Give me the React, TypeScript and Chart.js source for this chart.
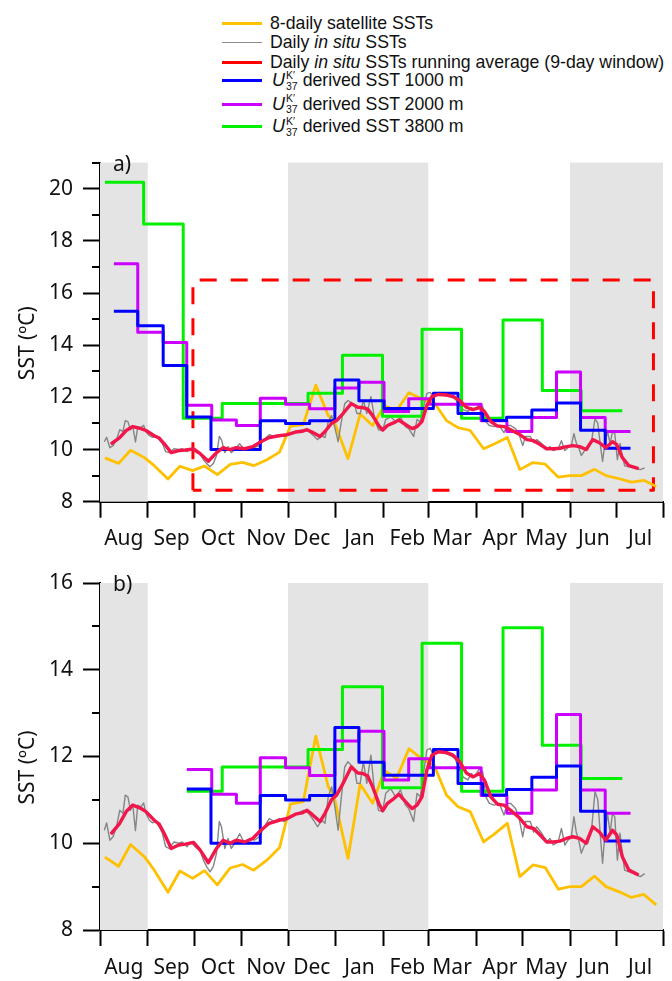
import React, { useEffect, useRef } from 'react';
import { Chart, registerables } from 'chart.js';

Chart.register(...registerables);

// ---- axis / calendar (days since 1 Aug) ----
const monthLabels = ['Aug', 'Sep', 'Oct', 'Nov', 'Dec', 'Jan', 'Feb', 'Mar', 'Apr', 'May', 'Jun', 'Jul'];
const monthStarts = [0, 31, 61, 92, 122, 153, 184, 213, 244, 274, 305, 335, 365.3];
const xMax = 365.3;
const shadedSpans = [[0, 31], [122, 213], [305, 365.3]];

const yMajorA = [8, 10, 12, 14, 16, 18, 20];
const yMinorA = [9, 11, 13, 15, 17, 19, 21];
const yMajorB = [8, 10, 12, 14, 16];
const yMinorB = [9, 11, 13, 15];

// ---- 8-daily satellite SSTs ----
const satDays = [3.2, 12.1, 19.8, 28.8, 35.2, 44.1, 51.8, 60.1, 67.8, 76.1, 84.5, 92.5, 99.7, 108.3, 116.5, 123.6, 131.9, 140.0, 148.1, 151.7, 160.9, 168.8, 176.9, 184.5, 192.4, 200.4, 210.5, 216.8, 224.8, 232.3, 240.2, 248.9, 255.8, 264.3, 272.4, 280.9, 288.9, 297.4, 304.9, 312.3, 320.9, 328.3, 336.9, 344.9, 352.8, 360.9];
const satSST = [9.68, 9.47, 9.97, 9.69, 9.38, 8.87, 9.36, 9.19, 9.37, 9.04, 9.43, 9.51, 9.38, 9.61, 9.90, 10.90, 10.96, 12.47, 11.30, 11.11, 9.65, 11.36, 10.92, 11.68, 11.49, 12.18, 11.90, 11.80, 11.11, 10.84, 10.73, 10.03, 10.21, 10.46, 9.23, 9.50, 9.44, 8.94, 9.00, 9.00, 9.24, 9.00, 8.88, 8.75, 8.82, 8.58];

// ---- daily in situ SSTs ----
const insituDays = [2.8, 4.3, 6.4, 8.5, 10.7, 12.8, 14.9, 16.4, 18.1, 19.8, 21.3, 23.0, 24.5, 26.6, 28.3, 29.8, 32.0, 34.1, 36.2, 38.4, 40.5, 42.6, 44.8, 48.0, 51.2, 53.3, 56.5, 58.6, 60.7, 62.9, 65.0, 67.1, 69.2, 71.4, 73.5, 75.6, 77.4, 78.8, 81.0, 83.1, 85.2, 87.4, 90.6, 93.8, 97.0, 100.2, 103.4, 106.6, 109.8, 113.0, 116.2, 119.4, 123.6, 127.9, 132.1, 135.4, 138.6, 141.1, 143.9, 146.0, 148.1, 150.3, 152.4, 154.5, 156.6, 158.8, 160.9, 163.0, 165.2, 166.7, 168.8, 170.9, 173.1, 175.8, 178.0, 180.7, 183.3, 185.4, 188.6, 191.8, 195.0, 198.2, 200.3, 203.5, 205.7, 207.8, 209.9, 212.1, 214.2, 216.3, 218.5, 220.6, 223.8, 227.0, 230.2, 233.4, 235.5, 238.7, 240.9, 243.0, 246.2, 248.3, 250.4, 252.6, 255.8, 259.0, 262.1, 264.3, 266.4, 269.6, 271.7, 274.3, 276.0, 279.2, 281.3, 283.4, 286.6, 289.8, 292.0, 294.1, 297.3, 299.4, 301.6, 303.7, 305.8, 307.5, 309.0, 310.6, 312.3, 314.4, 316.5, 319.1, 321.2, 323.0, 324.7, 326.1, 327.6, 329.3, 331.0, 332.5, 334.0, 335.7, 337.4, 338.9, 340.4, 343.2, 346.4, 350.6, 353.4];
const insituSST = [10.30, 10.47, 10.07, 10.15, 10.38, 10.76, 10.69, 11.11, 11.07, 10.76, 10.88, 10.29, 10.88, 10.84, 10.93, 10.69, 10.53, 10.47, 10.50, 10.38, 10.23, 9.92, 9.88, 10.03, 10.00, 10.03, 9.92, 10.03, 9.96, 9.88, 9.84, 9.61, 9.46, 9.34, 9.46, 9.77, 10.50, 10.38, 9.88, 10.11, 9.88, 10.00, 10.22, 10.00, 10.11, 10.07, 10.15, 10.38, 10.57, 10.50, 10.57, 10.50, 10.61, 10.69, 10.76, 10.69, 10.53, 10.38, 10.53, 10.46, 11.07, 11.30, 10.84, 10.30, 11.07, 11.76, 11.88, 11.80, 11.72, 11.38, 11.38, 11.88, 11.38, 12.03, 11.23, 10.76, 10.73, 11.15, 11.26, 11.07, 11.23, 10.88, 10.80, 10.50, 11.15, 11.07, 11.61, 12.15, 12.19, 12.03, 12.15, 12.19, 12.07, 12.03, 11.96, 11.69, 11.53, 11.46, 11.61, 11.53, 11.72, 11.65, 11.07, 10.92, 10.88, 10.92, 10.65, 10.92, 10.92, 10.80, 10.61, 10.15, 10.50, 10.50, 10.26, 10.38, 10.23, 10.03, 10.11, 9.96, 10.03, 10.34, 9.96, 10.07, 10.15, 10.61, 10.26, 10.07, 9.77, 9.96, 10.00, 10.38, 11.19, 11.00, 10.15, 9.54, 10.23, 10.69, 10.23, 10.69, 10.61, 9.61, 10.23, 9.77, 9.38, 9.34, 9.30, 9.23, 9.30];

// ---- 9-day running average ----
const avgDays = [7.0, 12.8, 17.0, 21.3, 26.6, 29.8, 35.2, 38.4, 41.6, 46.2, 51.1, 55.4, 60.7, 65.0, 70.3, 75.6, 79.9, 84.2, 88.4, 93.8, 99.1, 104.4, 109.8, 116.2, 121.5, 126.8, 131.1, 134.3, 137.5, 142.8, 146.0, 150.3, 153.5, 157.7, 163.0, 167.3, 170.5, 173.7, 176.9, 181.1, 183.5, 186.5, 190.7, 193.9, 198.2, 202.5, 205.7, 208.9, 212.1, 215.3, 219.5, 224.9, 229.1, 233.4, 237.7, 241.9, 246.2, 249.4, 253.6, 257.9, 262.1, 266.4, 271.7, 277.0, 281.3, 285.6, 289.8, 294.1, 298.4, 302.6, 306.9, 311.2, 315.4, 319.7, 324.0, 328.2, 332.5, 335.3, 338.9, 343.2, 349.5];
const avgSST = [10.21, 10.46, 10.73, 10.88, 10.80, 10.73, 10.53, 10.44, 10.23, 9.88, 9.96, 9.98, 10.02, 9.84, 9.55, 9.88, 10.07, 10.00, 10.07, 10.03, 10.11, 10.30, 10.46, 10.53, 10.57, 10.67, 10.70, 10.76, 10.67, 10.50, 10.69, 11.01, 11.11, 11.38, 11.76, 11.62, 11.61, 11.55, 11.30, 10.90, 10.75, 10.92, 11.03, 11.13, 10.96, 10.80, 10.88, 11.07, 11.69, 12.03, 12.11, 12.09, 12.03, 11.88, 11.62, 11.53, 11.61, 11.46, 11.07, 10.90, 10.88, 10.76, 10.60, 10.38, 10.34, 10.19, 10.03, 10.03, 10.05, 10.11, 10.15, 10.11, 10.00, 10.38, 10.26, 10.07, 10.30, 10.19, 9.69, 9.38, 9.27];

// ---- U37K' derived SSTs (sediment trap intervals: edges in days, one value per interval) ----
const u1000Edges = [9, 24.5, 41, 56.3, 72, 104, 120.4, 136, 152.4, 168, 184.3, 216.3, 232.3, 248.3, 263.8, 280.2, 296.2, 311.8, 327.8, 344.2];
const u1000SST = [15.30, 14.75, 13.22, 11.25, 10.00, 11.10, 11.00, 11.10, 12.67, 11.87, 11.57, 12.16, 11.38, 11.11, 11.24, 11.52, 11.78, 10.74, 10.05];
const u2000Edges = [9, 24.5, 41, 56.3, 72.5, 88.5, 104, 120.4, 136, 152.4, 168, 184.3, 200.3, 213.7, 247.3, 264, 280.2, 296.2, 311.8, 327.8, 344.2];
const u2000SST = [17.12, 14.50, 14.10, 11.70, 11.13, 10.92, 11.97, 11.74, 11.56, 12.36, 12.58, 11.46, 11.95, 11.74, 11.10, 10.69, 11.23, 12.97, 11.23, 10.69];
const u3800Edges = [3.2, 28.3, 54, 79.3, 135, 157.3, 183.3, 209, 234.6, 261.5, 287, 312.2, 338.9];
const u3800SST = [20.25, 18.65, 11.20, 11.76, 12.16, 13.61, 11.28, 14.61, 11.20, 14.97, 12.26, 11.49];

const panelBStart = 56.3;

// ---- dashed box in panel a ----
const boxDays = [60.3, 359.1];
const boxSST = [8.44, 16.5];

const COLORS = {
  sat: '#ffc000',
  insitu: '#858585',
  avg: '#f2164b',
  u1000: '#0000ff',
  u2000: '#cc00ff',
  u3800: '#00f000',
  box: '#ff0000',
  shade: '#e4e4e4',
};

const TICK_FONT = { family: '"Noto Sans", sans-serif', size: 21 };

function zip(xs: number[], ys: number[]) {
  const n = Math.min(xs.length, ys.length);
  const out: { x: number; y: number }[] = [];
  for (let i = 0; i < n; i++) out.push({ x: xs[i], y: ys[i] });
  return out;
}

function stepPoints(edges: number[], values: number[], from = -Infinity) {
  const pts: { x: number; y: number }[] = [];
  for (let i = 0; i < values.length; i++) {
    if (edges[i + 1] <= from) continue;
    pts.push({ x: Math.max(edges[i], from), y: values[i] });
  }
  pts.push({ x: edges[edges.length - 1], y: values[values.length - 1] });
  return pts;
}

function boxPoints() {
  return [
    { x: boxDays[0], y: boxSST[0] },
    { x: boxDays[0], y: boxSST[1] },
    { x: boxDays[1], y: boxSST[1] },
    { x: boxDays[1], y: boxSST[0] },
    { x: boxDays[0], y: boxSST[0] },
  ];
}

type PanelOpts = {
  yMin: number;
  yMax: number;
  yMajor: number[];
  yMinor: number[];
  label: string;
  withBox: boolean;
  stepFrom: number;
  padTop: number;
  xHeight: number;
};

function decorPlugin(p: PanelOpts) {
  return {
    id: 'decor',
    beforeDatasetsDraw(chart: any) {
      const { ctx, chartArea, scales } = chart;
      ctx.save();
      ctx.fillStyle = COLORS.shade;
      for (const [a, b] of shadedSpans) {
        const x1 = scales.x.getPixelForValue(a);
        const x2 = scales.x.getPixelForValue(b);
        ctx.fillRect(x1, chartArea.top, x2 - x1, chartArea.bottom - chartArea.top);
      }
      ctx.restore();
    },
    afterDraw(chart: any) {
      const { ctx, chartArea, scales } = chart;
      ctx.save();
      // minor y ticks
      ctx.strokeStyle = '#000';
      ctx.lineWidth = 2;
      for (const v of p.yMinor) {
        const y = Math.round(scales.y.getPixelForValue(v));
        ctx.beginPath();
        ctx.moveTo(chartArea.left - 8, y);
        ctx.lineTo(chartArea.left, y);
        ctx.stroke();
      }
      // panel label
      ctx.fillStyle = '#111';
      ctx.font = '21px "Noto Sans", sans-serif';
      ctx.textAlign = 'left';
      ctx.textBaseline = 'alphabetic';
      ctx.fillText(p.label, chartArea.left + 13, chartArea.top + 8);
      // y title
      ctx.translate(28, (chartArea.top + chartArea.bottom) / 2 + 11);
      ctx.rotate(-Math.PI / 2);
      ctx.textAlign = 'center';
      ctx.textBaseline = 'middle';
      ctx.fillText('SST (\u00baC)', 0, 0);
      ctx.restore();
    },
  };
}

function makeConfig(p: PanelOpts): any {
  const datasets: any[] = [
    {
      label: 'Daily in situ SSTs running average (9-day window)',
      data: zip(avgDays, avgSST),
      borderColor: COLORS.avg,
      borderWidth: 3.4,
      order: 0,
    },
    {
      label: "U37K' derived SST 1000 m",
      data: stepPoints(u1000Edges, u1000SST, p.stepFrom),
      borderColor: COLORS.u1000,
      borderWidth: 3,
      stepped: 'before',
      order: 1,
    },
    {
      label: "U37K' derived SST 2000 m",
      data: stepPoints(u2000Edges, u2000SST, p.stepFrom),
      borderColor: COLORS.u2000,
      borderWidth: 3,
      stepped: 'before',
      order: 2,
    },
    {
      label: "U37K' derived SST 3800 m",
      data: stepPoints(u3800Edges, u3800SST, p.stepFrom),
      borderColor: COLORS.u3800,
      borderWidth: 3,
      stepped: 'before',
      order: 3,
    },
    {
      label: 'Daily in situ SSTs',
      data: zip(insituDays, insituSST),
      borderColor: COLORS.insitu,
      borderWidth: 1.4,
      order: 4,
    },
    {
      label: '8-daily satellite SSTs',
      data: zip(satDays, satSST),
      borderColor: COLORS.sat,
      borderWidth: 2.8,
      order: 5,
    },
  ];
  if (p.withBox) {
    datasets.push({
      label: 'box',
      data: boxPoints(),
      borderColor: COLORS.box,
      borderWidth: 3,
      borderDash: [17, 14],
      order: 6,
    });
  }
  datasets.forEach((d) => {
    d.pointRadius = 0;
    d.fill = false;
    d.tension = 0;
    d.borderJoinStyle = 'round';
  });

  return {
    type: 'line',
    data: { datasets },
    options: {
      animation: false,
      responsive: false,
      devicePixelRatio: 1,
      layout: { padding: { top: p.padTop, right: 0.7, left: 0, bottom: 0 } },
      plugins: { legend: { display: false }, tooltip: { enabled: false } },
      scales: {
        x: {
          type: 'linear',
          min: 0,
          max: xMax,
          afterBuildTicks(scale: any) {
            scale.ticks = monthStarts.map((v) => ({ value: v }));
          },
          afterFit(scale: any) {
            scale.height = p.xHeight;
          },
          ticks: {
            autoSkip: false,
            maxRotation: 0,
            minRotation: 0,
            labelOffset: 23.8,
            padding: 9,
            color: '#111',
            font: TICK_FONT,
            callback: (_v: any, i: number) => monthLabels[i] ?? '',
          },
          grid: {
            drawOnChartArea: false,
            drawTicks: true,
            tickLength: 16,
            tickWidth: 2,
            tickColor: '#000',
          },
          border: { display: true, color: '#000', width: 2 },
        },
        y: {
          type: 'linear',
          min: p.yMin,
          max: p.yMax,
          afterBuildTicks(scale: any) {
            scale.ticks = p.yMajor.map((v) => ({ value: v }));
          },
          afterFit(scale: any) {
            scale.width = 100;
          },
          ticks: {
            padding: 10,
            color: '#111',
            font: TICK_FONT,
            callback: (v: any) => String(v),
          },
          grid: {
            drawOnChartArea: false,
            drawTicks: true,
            tickLength: 17,
            tickWidth: 2,
            tickColor: '#000',
          },
          border: { display: true, color: '#000', width: 2 },
        },
      },
    },
    plugins: [decorPlugin(p)],
  };
}

const panelA: PanelOpts = {
  yMin: 8, yMax: 21, yMajor: yMajorA, yMinor: yMinorA, label: 'a)',
  withBox: true, stepFrom: -Infinity, padTop: 13.3, xHeight: 58.3,
};
const panelB: PanelOpts = {
  yMin: 8, yMax: 16, yMajor: yMajorB, yMinor: yMinorB, label: 'b)',
  withBox: false, stepFrom: panelBStart, padTop: 23, xHeight: 51,
};

function Panel({ opts, top, height }: { opts: PanelOpts; top: number; height: number }) {
  const ref = useRef<HTMLCanvasElement | null>(null);
  useEffect(() => {
    if (!ref.current) return;
    const chart = new Chart(ref.current, makeConfig(opts));
    return () => chart.destroy();
  }, [opts]);
  return (
    <canvas
      ref={ref}
      width={672}
      height={height}
      style={{ position: 'absolute', left: 0, top, width: 672, height }}
    />
  );
}

const legendFont: React.CSSProperties = {
  fontFamily: '"Liberation Sans", Arial, sans-serif',
  fontSize: 17.7,
  color: '#111',
  whiteSpace: 'nowrap',
};

function LegendRow({ y, color, thick, children }: { y: number; color: string; thick: number; children: React.ReactNode }) {
  return (
    <div style={{ position: 'absolute', left: 222, top: y - 12, height: 24, display: 'flex', alignItems: 'center', ...legendFont }}>
      <div style={{ width: 40, height: thick, background: color, marginRight: 8 }} />
      <div style={{ display: 'flex', alignItems: 'center' }}>{children}</div>
    </div>
  );
}

function UK37() {
  return (
    <span style={{ display: 'inline-flex', alignItems: 'center', marginRight: 5 }}>
      <span style={{ fontStyle: 'italic', fontSize: 18, marginLeft: 2 }}>U</span>
      <span style={{ display: 'inline-flex', flexDirection: 'column', fontSize: 10.5, lineHeight: '11px', marginLeft: 1 }}>
        <span>K{'\u2032'}</span>
        <span>37</span>
      </span>
    </span>
  );
}

export default function App() {
  return (
    <div style={{ position: 'absolute', left: 0, top: 0, width: 672, height: 981, background: '#fff', overflow: 'hidden' }}>
      <LegendRow y={23.3} color={COLORS.sat} thick={3}>8-daily satellite SSTs</LegendRow>
      <LegendRow y={42.7} color="#8c8c8c" thick={1.5}>
        Daily&nbsp;<i>in situ</i>&nbsp;SSTs
      </LegendRow>
      <LegendRow y={62.3} color="#ff0000" thick={3}>
        Daily&nbsp;<i>in situ</i>&nbsp;SSTs running average (9-day window)
      </LegendRow>
      <LegendRow y={80.7} color={COLORS.u1000} thick={3}>
        <UK37 />derived SST 1000 m
      </LegendRow>
      <LegendRow y={104} color={COLORS.u2000} thick={3}>
        <UK37 />derived SST 2000 m
      </LegendRow>
      <LegendRow y={126.7} color={COLORS.u3800} thick={3}>
        <UK37 />derived SST 3800 m
      </LegendRow>
      <Panel opts={panelA} top={140} height={420} />
      <Panel opts={panelB} top={560} height={421} />
    </div>
  );
}
